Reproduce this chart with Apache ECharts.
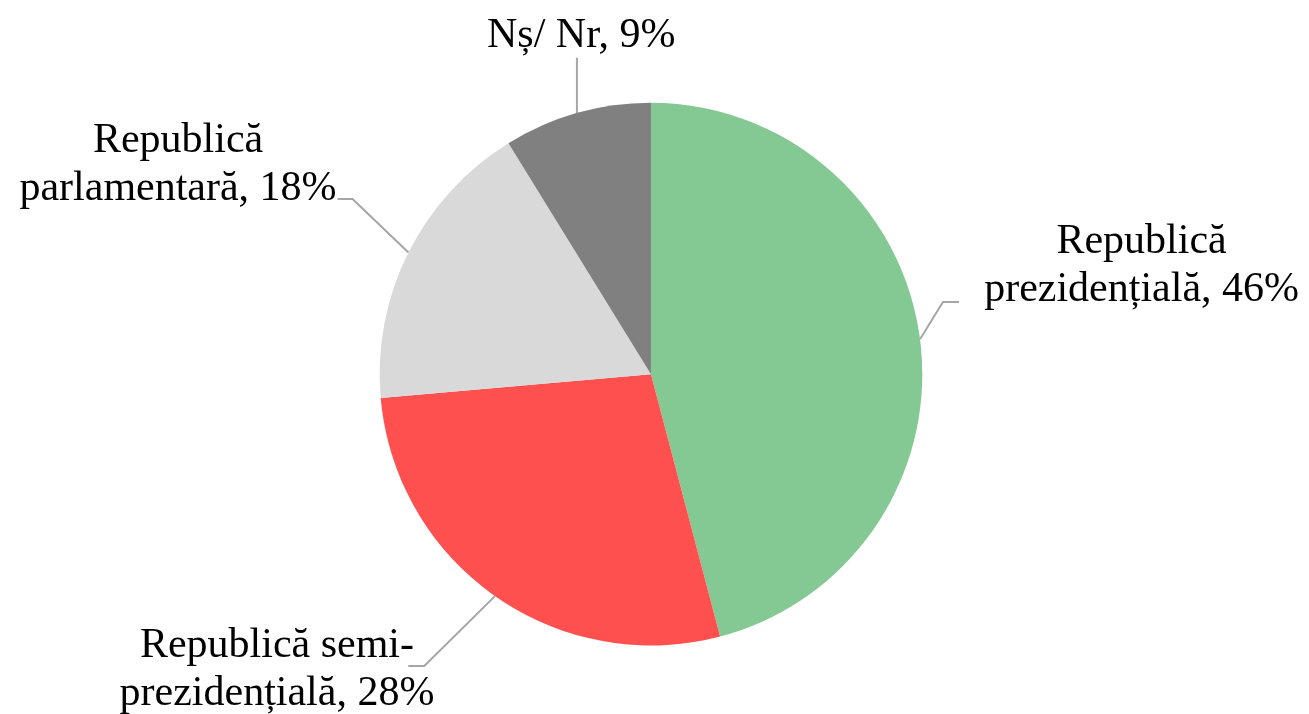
<!DOCTYPE html>
<html>
<head>
<meta charset="utf-8">
<script src="https://cdn.jsdelivr.net/npm/echarts@6/dist/echarts.min.js"></script>
<style>
html,body{margin:0;padding:0;background:#fff;}
#chart{width:1309px;height:714px;}
</style>
</head>
<body>
<div id="chart"></div>
<script>
// Data
var categories = ['Republică\nprezidențială', 'Republică semi-\nprezidențială', 'Republică\nparlamentară', 'Nș/ Nr'];
var values = [45.9, 27.7, 17.6, 8.8];
var colors = ['#84C893', '#FF5050', '#D9D9D9', '#808080'];

// label placement (centre of label block as share of chart size) and leader-line attach style
var labelPos = [
  {x: 0.8721, y: 0.372,  fx: -0.08, fy: 0.88, elbow: -16, vertical: false},
  {x: 0.2116, y: 0.938,  fx: 0.917, fy: 0.46, elbow: 16,  vertical: false},
  {x: 0.136,  y: 0.2308, fx: 1.003, fy: 0.856, elbow: 15, vertical: false},
  {x: 0.444,  y: 0.05,   fx: 0.5,   fy: 0.96, elbow: 0,   vertical: true}
];

var chart = echarts.init(document.getElementById('chart'), null, {renderer: 'canvas'});
chart.setOption({
  backgroundColor: '#ffffff',
  animation: false,
  series: [{
    type: 'pie',
    center: ['49.73%', '52.4%'],
    radius: '76%',
    startAngle: 90,
    clockwise: true,
    avoidLabelOverlap: false,
    data: categories.map(function (c, i) {
      return {name: c, value: values[i], itemStyle: {color: colors[i]}};
    }),
    itemStyle: {borderWidth: 0},
    label: {
      show: true,
      position: 'outside',
      formatter: function (p) { return p.name + ', ' + Math.round(p.value) + '%'; },
      fontFamily: 'Liberation Serif',
      fontSize: 42,
      lineHeight: 48,
      color: '#000000',
      align: 'center'
    },
    labelLine: {
      show: true,
      length: 20,
      length2: 15,
      lineStyle: {color: '#A6A6A6', width: 2}
    },
    labelLayout: function (params) {
      var p = labelPos[params.dataIndex];
      var W = chart.getWidth(), H = chart.getHeight();
      var cx = p.x * W, cy = p.y * H;
      var w = params.labelRect.width, h = params.labelRect.height;
      var rx = cx - w / 2, ry = cy - h / 2;
      var start = params.labelLinePoints[0];
      var end, elbow;
      if (p.vertical) {
        end = [start[0], ry + p.fy * h];
        elbow = [start[0], (start[1] + end[1]) / 2];
      } else {
        end = [rx + p.fx * w, ry + p.fy * h];
        elbow = [end[0] + p.elbow, end[1]];
      }
      return {
        x: cx, y: cy, align: 'center', verticalAlign: 'middle',
        labelLinePoints: [start, elbow, end]
      };
    }
  }]
});
</script>
</body>
</html>
